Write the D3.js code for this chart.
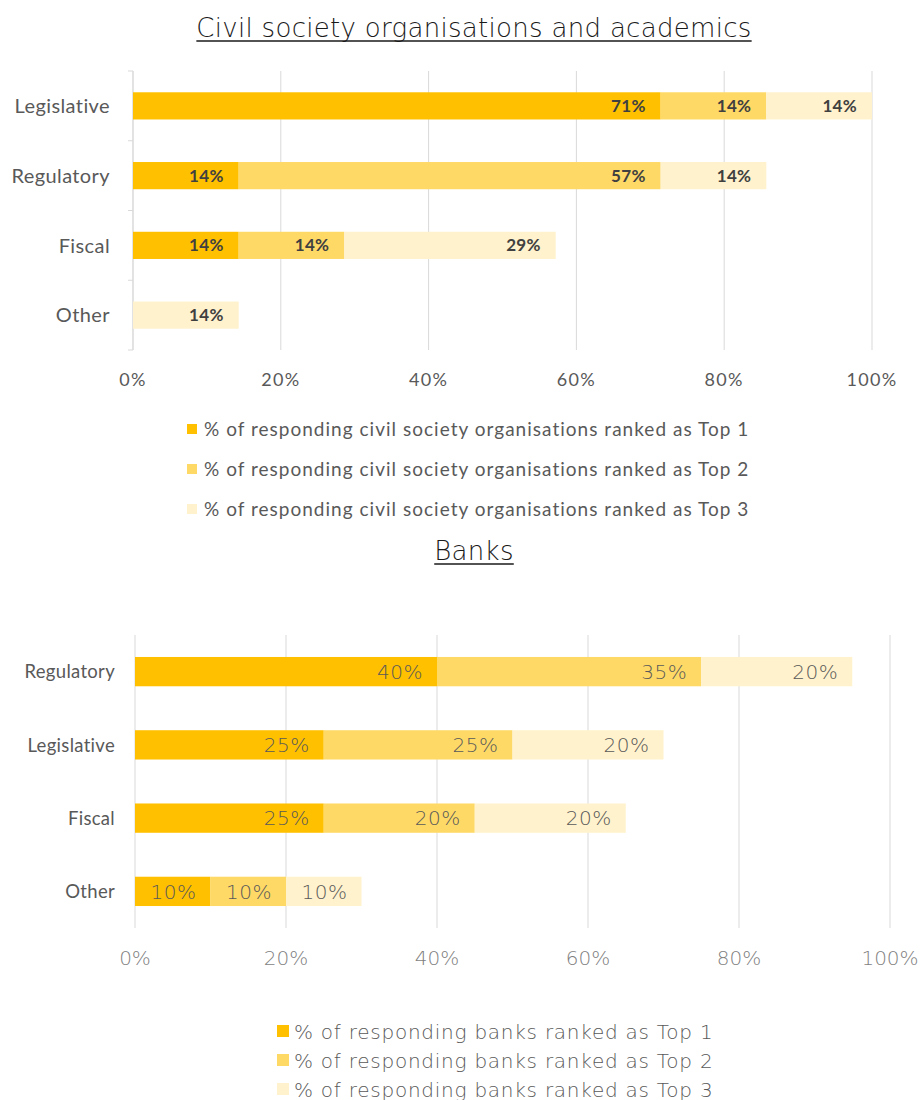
<!DOCTYPE html>
<html>
<head>
<meta charset="utf-8">
<script src="https://cdn.jsdelivr.net/npm/d3@7"></script>
<style>
  html, body { margin: 0; padding: 0; background: #fff; }
  svg { display: block; }
</style>
</head>
<body>
<svg id="chart" width="923" height="1100"></svg>
<script>
// ---- Civil society organisations and academics ----
const csoCategories = ["Legislative", "Regulatory", "Fiscal", "Other"];
const csoTop1 = [71.4, 14.3, 14.3, 0];
const csoTop2 = [14.3, 57.1, 14.3, 0];
const csoTop3 = [14.3, 14.3, 28.6, 14.3];
const csoLegend = [
  "% of responding civil society organisations ranked as Top 1",
  "% of responding civil society organisations ranked as Top 2",
  "% of responding civil society organisations ranked as Top 3"
];

// ---- Banks ----
const bankCategories = ["Regulatory", "Legislative", "Fiscal", "Other"];
const bankTop1 = [40, 25, 25, 10];
const bankTop2 = [35, 25, 20, 10];
const bankTop3 = [20, 20, 20, 10];
const bankLegend = [
  "% of responding banks ranked as Top 1",
  "% of responding banks ranked as Top 2",
  "% of responding banks ranked as Top 3"
];

const tickValues = [0, 20, 40, 60, 80, 100];
const colors = ["#FFC000", "#FFD966", "#FFF2CC"];

const svg = d3.select("#chart");
const pct = v => d3.format(".0f")(v) + "%";
const THIN = "'DejaVu Sans', sans-serif";

function drawChart(opts) {
  const { categories, series, legend, left, right, top, bottom, barFrac,
          g, catFont, valFont, tickFont, legendFont, drawAxisLine } = opts;

  const x = d3.scaleLinear().domain([0, 100]).range([left, right]);
  const y = d3.scaleBand().domain(categories).range([top, bottom]).paddingInner(0).paddingOuter(0);
  const barH = y.bandwidth() * barFrac;

  // gridlines
  g.append("g")
    .selectAll("line")
    .data(tickValues)
    .join("line")
    .attr("x1", d => x(d)).attr("x2", d => x(d))
    .attr("y1", top).attr("y2", bottom)
    .attr("stroke", "#d9d9d9").attr("stroke-width", 1);

  if (drawAxisLine) {
    const ax = g.append("g");
    ax.append("line")
      .attr("x1", x(0)).attr("x2", x(0)).attr("y1", top).attr("y2", bottom)
      .attr("stroke", "#d9d9d9");
    const bounds = categories.map(c => y(c)).concat([bottom]);
    ax.selectAll("line.tk").data(bounds).join("line").attr("class", "tk")
      .attr("x1", x(0) - 5).attr("x2", x(0)).attr("y1", d => d).attr("y2", d => d)
      .attr("stroke", "#d9d9d9");
  }

  // stacked segments
  const rows = categories.map((c, i) => {
    let acc = 0;
    return series.map((s, k) => {
      const seg = { cat: c, k, v: s[i], x0: acc, x1: acc + s[i] };
      acc += s[i];
      return seg;
    });
  }).flat().filter(d => d.v > 0);

  const segG = g.append("g");
  segG.selectAll("rect")
    .data(rows)
    .join("rect")
    .attr("x", d => x(d.x0))
    .attr("width", d => x(d.x1) - x(d.x0))
    .attr("y", d => y(d.cat) + (y.bandwidth() - barH) / 2)
    .attr("height", barH)
    .attr("fill", d => colors[d.k]);

  segG.selectAll("text")
    .data(rows)
    .join("text")
    .attr("x", d => x(d.x1) - valFont.pad)
    .attr("y", d => y(d.cat) + y.bandwidth() / 2)
    .attr("dy", "0.36em")
    .attr("text-anchor", "end")
    .style("font-family", valFont.family)
    .style("font-size", valFont.size + "px")
    .style("font-weight", valFont.weight)
    .style("letter-spacing", valFont.spacing || "0px")
    .attr("fill", valFont.color)
    .text(d => pct(d.v));

  // category labels
  g.append("g")
    .selectAll("text")
    .data(categories)
    .join("text")
    .attr("x", catFont.x)
    .attr("y", d => y(d) + y.bandwidth() / 2)
    .attr("dy", "0.36em")
    .attr("text-anchor", "end")
    .style("font-family", catFont.family)
    .style("font-size", catFont.size + "px")
    .style("letter-spacing", catFont.spacing || "0px")
    .attr("fill", "#595959")
    .text(d => d);

  // x tick labels
  g.append("g")
    .selectAll("text")
    .data(tickValues)
    .join("text")
    .attr("x", d => x(d))
    .attr("y", tickFont.y)
    .attr("text-anchor", "middle")
    .style("font-family", tickFont.family)
    .style("font-size", tickFont.size + "px")
    .style("font-weight", tickFont.weight)
    .style("letter-spacing", tickFont.spacing || "0px")
    .attr("fill", tickFont.color)
    .text(d => d + "%");

  // legend
  const lg = g.append("g");
  legend.forEach((t, i) => {
    const yy = legendFont.y0 + i * legendFont.step;
    lg.append("rect")
      .attr("x", legendFont.x).attr("y", yy - legendFont.sq + 1)
      .attr("width", legendFont.sq).attr("height", legendFont.sq)
      .attr("fill", colors[i]);
    lg.append("text")
      .attr("x", legendFont.x + legendFont.sq + legendFont.gap)
      .attr("y", yy + 3)
      .style("font-family", legendFont.family)
      .style("font-size", legendFont.size + "px")
      .style("font-weight", legendFont.weight)
      .style("letter-spacing", legendFont.spacing || "0px")
      .attr("fill", legendFont.color)
      .text(t);
  });
}

function title(text, cx, yBase, size) {
  const t = svg.append("text")
    .attr("x", cx).attr("y", yBase)
    .attr("text-anchor", "middle")
    .style("font-family", THIN)
    .style("font-size", size + "px")
    .style("font-weight", 200)
    .style("letter-spacing", "0.3px")
    .attr("fill", "#1a1a1a")
    .text(text);
  const w = t.node().getComputedTextLength();
  svg.append("line")
    .attr("x1", cx - w / 2).attr("x2", cx + w / 2)
    .attr("y1", yBase + 4).attr("y2", yBase + 4)
    .attr("stroke", "#1a1a1a").attr("stroke-width", 1.5);
}

title("Civil society organisations and academics", 474, 37, 26);
title("Banks", 474, 560, 26);

drawChart({
  categories: csoCategories,
  series: [csoTop1, csoTop2, csoTop3],
  legend: csoLegend,
  left: 133, right: 872, top: 71, bottom: 350, barFrac: 0.39,
  g: svg.append("g"),
  drawAxisLine: true,
  catFont: { x: 110, family: "Lato, sans-serif", size: 20, spacing: "0.4px" },
  valFont: { family: "Lato, sans-serif", size: 17, weight: 700, color: "#404040", pad: 15, spacing: "0.3px" },
  tickFont: { y: 386, family: "Lato, sans-serif", size: 18, weight: 400, color: "#595959", spacing: "1.3px" },
  legendFont: { x: 187, y0: 433, step: 40, sq: 10, gap: 7, family: "Lato, sans-serif",
                size: 19, weight: 400, color: "#595959", spacing: "1.02px" }
});

drawChart({
  categories: bankCategories,
  series: [bankTop1, bankTop2, bankTop3],
  legend: bankLegend,
  left: 135, right: 890, top: 635, bottom: 928, barFrac: 0.4,
  g: svg.append("g"),
  drawAxisLine: false,
  catFont: { x: 115, family: "Lato, sans-serif", size: 18.5, spacing: "0.3px" },
  valFont: { family: THIN, size: 20, weight: 200, color: "#595959", pad: 14, spacing: "0.5px" },
  tickFont: { y: 965, family: THIN, size: 20, weight: 200, color: "#7f7f7f" },
  legendFont: { x: 277, y0: 1036, step: 29, sq: 12, gap: 5, family: THIN,
                size: 20, weight: 200, color: "#595959", spacing: "0.75px" }
});
</script>
</body>
</html>
